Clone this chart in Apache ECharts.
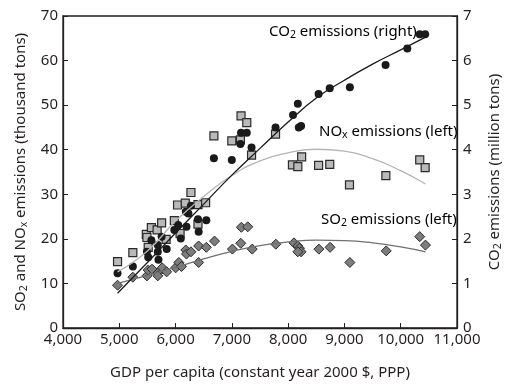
<!DOCTYPE html>
<html>
<head>
<meta charset="utf-8">
<script src="https://cdn.jsdelivr.net/npm/echarts@6/dist/echarts.min.js"></script>
<style>
  html, body { margin: 0; padding: 0; background: #fff; }
  #main { width: 512px; height: 385px; }
</style>
</head>
<body>
<div id="main"></div>
<script>
// GDP per capita vs. emissions
const co2Points = [
  [4969, 1.23], [5241, 1.38], [5491, 1.71], [5514, 1.59], [5570, 1.97], [5684, 1.86],
  [5684, 1.71], [5696, 1.53], [5752, 2.05], [5842, 1.77], [5978, 2.20], [6046, 2.31],
  [6092, 2.01], [6194, 2.27], [6182, 2.61], [6228, 2.57], [6273, 2.74], [6398, 2.44],
  [6410, 2.16], [6546, 2.42], [6681, 3.81], [6999, 3.77], [7152, 4.13], [7163, 4.38],
  [7265, 4.38], [7350, 4.05], [7776, 4.50], [8087, 4.78], [8172, 5.03], [8189, 4.50],
  [8230, 4.53], [8541, 5.25], [8739, 5.38], [9097, 5.40], [9731, 5.90], [10117, 6.27],
  [10338, 6.59], [10434, 6.59]
];
const noxPoints = [
  [4969, 14.9], [5241, 16.9], [5480, 21.0], [5491, 20.3], [5514, 18.1], [5570, 22.5],
  [5672, 22.0], [5752, 23.6], [5832, 19.9], [5978, 24.1], [6035, 27.6], [6080, 21.2],
  [6172, 28.0], [6273, 30.4], [6398, 27.7], [6398, 23.3], [6534, 28.1], [6681, 43.1],
  [6999, 42.0], [7152, 42.2], [7163, 47.6], [7265, 46.1], [7350, 38.8], [7776, 43.5],
  [8076, 36.6], [8172, 36.2], [8240, 38.4], [8541, 36.5], [8739, 36.7], [9090, 32.1],
  [9736, 34.2], [10338, 37.7], [10434, 36.0]
];
const so2Points = [
  [4969, 9.6], [5241, 11.4], [5491, 11.7], [5514, 13.0], [5582, 13.2], [5684, 12.3],
  [5684, 11.7], [5763, 13.5], [5842, 12.6], [6001, 13.5], [6058, 14.7], [6104, 13.8],
  [6182, 17.5], [6194, 16.6], [6273, 17.1], [6410, 14.7], [6410, 18.4], [6546, 18.1],
  [6692, 19.5], [7010, 17.7], [7158, 19.0], [7169, 22.6], [7282, 22.7], [7362, 17.7],
  [7781, 18.8], [8104, 19.1], [8172, 18.4], [8201, 17.9], [8230, 17.1], [8172, 17.1],
  [8546, 17.7], [8745, 18.1], [9097, 14.7], [9743, 17.3], [10338, 20.5], [10440, 18.6]
];

// fitted curves as drawn in the picture
const co2Fit = [
  [4969, 0.78], [5500, 1.47], [6000, 2.13], [6500, 2.78], [7000, 3.43], [7500, 4.03],
  [8000, 4.62], [8500, 5.16], [9000, 5.56], [9500, 5.92], [10000, 6.24], [10450, 6.53]
];
const noxFit = [
  [4969, 12.6], [5500, 17.3], [6000, 24.0], [6500, 29.5], [7000, 34.2], [7500, 37.5],
  [8000, 39.3], [8500, 40.1], [9000, 39.7], [9500, 38.0], [10000, 35.3], [10440, 32.3]
];
const so2Fit = [
  [4969, 10.0], [5500, 11.8], [6000, 13.6], [6500, 15.5], [7000, 17.2], [7500, 18.5],
  [8000, 19.3], [8500, 19.7], [9000, 19.6], [9500, 19.1], [10000, 18.2], [10440, 17.1]
];

const FONT = 'Noto Sans';
const txt = '#231f20';

const rich = {
  n: { fontFamily: FONT, fontSize: 15, lineHeight: 19, color: txt },
  s: { fontFamily: FONT, fontSize: 10.5, lineHeight: 10, color: txt, verticalAlign: 'bottom' }
};

const chart = echarts.init(document.getElementById('main'));

const option = {
  animation: false,
  grid: {
    left: 63, right: 37, top: 16, bottom: 57,
    show: true, borderColor: '#231f20', borderWidth: 1.3
  },
  xAxis: {
    type: 'value',
    min: 4000, max: 11000, interval: 1000,
    name: 'GDP per capita (constant year 2000 $, PPP)',
    nameLocation: 'middle', nameGap: 37,
    nameTextStyle: { fontFamily: FONT, fontSize: 15, color: txt },
    axisLine: { lineStyle: { color: '#231f20', width: 1.3 } },
    axisTick: { inside: true, length: 5, lineStyle: { color: '#231f20' } },
    axisLabel: {
      fontFamily: FONT, fontSize: 15, color: txt, margin: 4,
      formatter: v => v.toLocaleString('en-US')
    },
    splitLine: { show: false }
  },
  yAxis: [
    {
      type: 'value', min: 0, max: 70, interval: 10,
      name: '{n|SO}{s|2}{n| and NO}{s|x}{n| emissions (thousand tons)}',
      nameLocation: 'middle', nameGap: 32, nameRotate: 90,
      nameTextStyle: { rich: rich },
      axisLine: { show: true, lineStyle: { color: '#231f20', width: 1.3 } },
      axisTick: { show: true, inside: true, length: 5, lineStyle: { color: '#231f20' } },
      axisLabel: { fontFamily: FONT, fontSize: 15, color: txt, margin: 5 },
      splitLine: { show: false }
    },
    {
      type: 'value', min: 0, max: 7, interval: 1,
      position: 'right',
      name: '{n|CO}{s|2}{n| emissions (million tons)}',
      nameLocation: 'middle', nameGap: 28, nameRotate: 90,
      nameTextStyle: { rich: rich },
      axisLine: { show: true, lineStyle: { color: '#231f20', width: 1.3 } },
      axisTick: { show: true, inside: true, length: 5, lineStyle: { color: '#231f20' } },
      axisLabel: { fontFamily: FONT, fontSize: 15, color: txt, margin: 6 },
      splitLine: { show: false }
    }
  ],
  series: [
    {
      name: 'SO2', type: 'scatter', yAxisIndex: 0, data: so2Points,
      symbol: 'diamond', symbolSize: 10,
      itemStyle: { color: '#7d7d7d', borderColor: '#2a2a2a', borderWidth: 1, opacity: 1 }
    },
    {
      name: 'NOx', type: 'scatter', yAxisIndex: 0, data: noxPoints,
      symbol: 'rect', symbolSize: 8,
      itemStyle: { color: '#b9b9b9', borderColor: '#2a2a2a', borderWidth: 1.2, opacity: 1 }
    },
    {
      name: 'CO2', type: 'scatter', yAxisIndex: 1, data: co2Points,
      symbol: 'circle', symbolSize: 8,
      itemStyle: { color: '#1a1a1a', opacity: 1 }
    },
    {
      type: 'line', yAxisIndex: 0, data: noxFit, smooth: true, symbol: 'none',
      lineStyle: { color: '#b5b5b5', width: 1.3 }, z: 3
    },
    {
      type: 'line', yAxisIndex: 0, data: so2Fit, smooth: true, symbol: 'none',
      lineStyle: { color: '#707070', width: 1.3 }, z: 3
    },
    {
      type: 'line', yAxisIndex: 1, data: co2Fit, smooth: true, symbol: 'none',
      lineStyle: { color: '#1a1a1a', width: 1.3 }, z: 3
    }
  ],
  graphic: [
    {
      type: 'text', left: 269, top: 24,
      style: { text: '{n|CO}{s|2}{n| emissions (right)}', rich: rich }
    },
    {
      type: 'text', left: 319, top: 124,
      style: { text: '{n|NO}{s|x}{n| emissions (left)}', rich: rich }
    },
    {
      type: 'text', left: 321, top: 212,
      style: { text: '{n|SO}{s|2}{n| emissions (left)}', rich: rich }
    }
  ]
};

chart.setOption(option);
</script>
</body>
</html>
